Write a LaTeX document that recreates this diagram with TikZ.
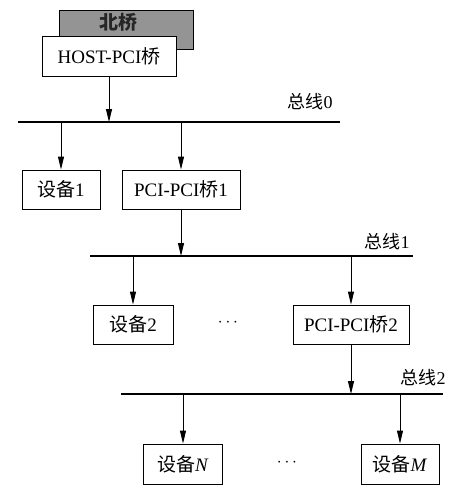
\documentclass[tikz,border=0pt]{standalone}
\usepackage{fontspec}
\setmainfont{Liberation Serif}
\newfontfamily\cjk{Noto Sans CJK SC}
\usetikzlibrary{arrows.meta}
\begin{document}
\begin{tikzpicture}[x=1pt,y=-1pt,
  box/.style={draw,line width=0.9pt,fill=white,inner sep=0pt,minimum height=40pt,font=\fontsize{19}{21}\selectfont},
  bus/.style={line width=1.1pt},
  link/.style={line width=0.9pt,-{Triangle[length=13pt,width=6pt]}},
  buslabel/.style={font=\fontsize{18}{20}\selectfont,anchor=base},
  dots/.style={font=\fontsize{18}{20}\selectfont}]
\useasboundingbox (0,0) rectangle (475,501);

% north bridge behind the host bridge
\node[box,fill=black!42,minimum width=134pt,minimum height=39pt] (nb) at (126,29.5) {};
\node[font=\fontsize{19}{21}\selectfont\cjk\bfseries,text=black!85] (nbt) at (118,22) {北桥};
\node[box,minimum width=134pt] (host) at (109,56) {HOST-PCI{\cjk 桥}};

% bus 0
\coordinate (b0l) at (18,122);
\coordinate (b0r) at (340,122);
\draw[bus] (b0l) -- (b0r);
\node[buslabel] (l0) at (310,108) {{\cjk 总线}0};
\coordinate (b0h) at (109,122);
\coordinate (b0a) at (61,122);
\coordinate (b0b) at (181,122);
\node[box,minimum width=78pt,minimum height=39pt] (dev1) at (61,189.5) {{\cjk 设备}1};
\node[box,minimum width=118pt,minimum height=39pt] (br1) at (181,189.5) {PCI-PCI{\cjk 桥}1};
\draw[link] (host.south) -- (b0h);
\draw[link] (b0a) -- (dev1.north);
\draw[link] (b0b) -- (br1.north);

% bus 1
\coordinate (b1l) at (90,256);
\coordinate (b1r) at (413,256);
\draw[bus] (b1l) -- (b1r);
\node[buslabel] (l1) at (387,248) {{\cjk 总线}1};
\coordinate (b1h) at (181,256);
\coordinate (b1a) at (133,256);
\coordinate (b1b) at (351,256);
\node[box,minimum width=80pt,minimum height=39pt] (dev2) at (133,324.5) {{\cjk 设备}2};
\node[dots] (d1) at (228,323) {$\cdots$};
\node[box,minimum width=116pt,minimum height=39pt] (br2) at (351,324.5) {PCI-PCI{\cjk 桥}2};
\draw[link] (br1.south) -- (b1h);
\draw[link] (b1a) -- (dev2.north);
\draw[link] (b1b) -- (br2.north);

% bus 2
\coordinate (b2l) at (121,394);
\coordinate (b2r) at (443,394);
\draw[bus] (b2l) -- (b2r);
\node[buslabel] (l2) at (423,384) {{\cjk 总线}2};
\coordinate (b2h) at (351,394);
\coordinate (b2a) at (183,394);
\coordinate (b2b) at (400,394);
\node[box,minimum width=79pt] (devn) at (183,464) {{\cjk 设备}\textit{N}};
\node[dots] (d2) at (287,463) {$\cdots$};
\node[box,minimum width=78pt] (devm) at (400,464) {{\cjk 设备}\textit{M}};
\draw[link] (br2.south) -- (b2h);
\draw[link] (b2a) -- (devn.north);
\draw[link] (b2b) -- (devm.north);
\end{tikzpicture}
\end{document}
